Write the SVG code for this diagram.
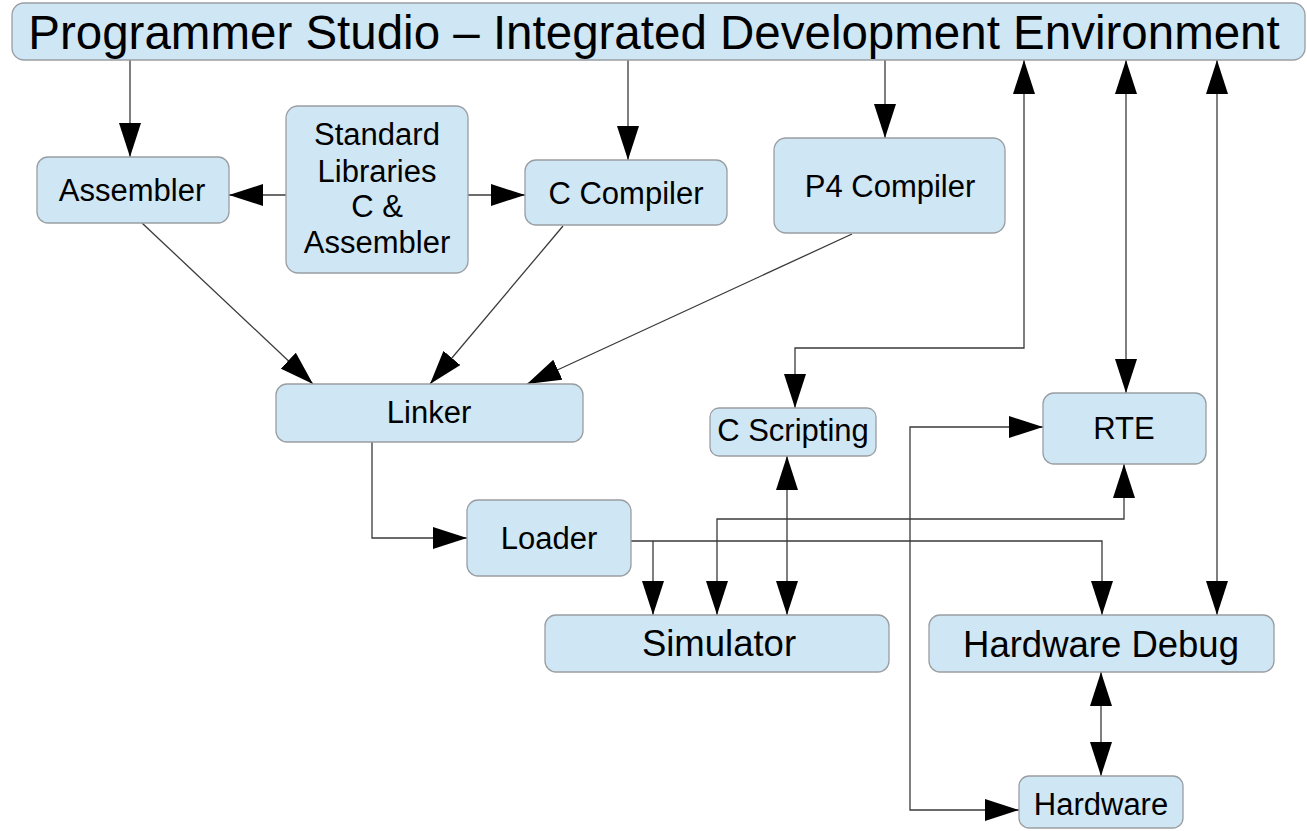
<svg xmlns="http://www.w3.org/2000/svg" width="1307" height="831" viewBox="0 0 1307 831">
<style>
.box{fill:#cfe6f4;stroke:#9a9ea3;stroke-width:1.3}
.t{font-family:"Liberation Sans",Arial,sans-serif;fill:#000;text-anchor:middle}
.m{font-size:31px}
.l{font-size:36.5px}
.c{fill:none;stroke:#3a3a3a;stroke-width:1.3}
</style>
<defs>
<marker id="ah" viewBox="0 0 34 22" refX="34" refY="11" markerWidth="34" markerHeight="22" markerUnits="userSpaceOnUse" orient="auto-start-reverse">
<path d="M0,0 L34,11 L0,22 z" fill="#000"/>
</marker>
</defs>
<rect width="1307" height="831" fill="#fff"/>
<g id="connectors">
<path class="c" d="M130,60 L130,157" marker-end="url(#ah)"/>
<path class="c" d="M628,60 L628,160" marker-end="url(#ah)"/>
<path class="c" d="M885,60 L885,138" marker-end="url(#ah)"/>
<path class="c" d="M286,195 L229,195" marker-end="url(#ah)"/>
<path class="c" d="M468,195 L525,195" marker-end="url(#ah)"/>
<path class="c" d="M142,223 L313,384" marker-end="url(#ah)"/>
<path class="c" d="M563,226 L430,384" marker-end="url(#ah)"/>
<path class="c" d="M852,234 L527,384" marker-end="url(#ah)"/>
<path class="c" d="M372,442 L372,538 L467,538" marker-end="url(#ah)"/>
<path class="c" d="M795,408 L795,348 L1024,348 L1024,60" marker-start="url(#ah)" marker-end="url(#ah)"/>
<path class="c" d="M1126,393 L1126,60" marker-start="url(#ah)" marker-end="url(#ah)"/>
<path class="c" d="M1217,615 L1217,60" marker-start="url(#ah)" marker-end="url(#ah)"/>
<path class="c" d="M787,615 L787,456" marker-start="url(#ah)" marker-end="url(#ah)"/>
<path class="c" d="M631,541 L1102,541 L1102,615" marker-end="url(#ah)"/>
<path class="c" d="M653,541 L653,615" marker-end="url(#ah)"/>
<path class="c" d="M717,615 L717,519 L1124,519 L1124,464" marker-start="url(#ah)" marker-end="url(#ah)"/>
<path class="c" d="M1019,810 L910,810 L910,427 L1043,427" marker-start="url(#ah)" marker-end="url(#ah)"/>
<path class="c" d="M1101,776 L1101,672" marker-start="url(#ah)" marker-end="url(#ah)"/>
</g>
<g id="ide">
<rect class="box" x="12" y="3" width="1293" height="57" rx="12"/>
<text class="t" x="654" y="49" font-size="47.5">Programmer Studio – Integrated Development Environment</text>
</g>
<g id="assembler">
<rect class="box" x="37" y="157" width="192" height="66" rx="11"/>
<text class="t m" x="132" y="201">Assembler</text>
</g>
<g id="stdlib">
<rect class="box" x="286" y="106" width="182" height="167" rx="12"/>
<text class="t m" x="377" y="145">Standard</text>
<text class="t m" x="377" y="182">Libraries</text>
<text class="t m" x="377" y="217">C &amp;</text>
<text class="t m" x="377" y="253">Assembler</text>
</g>
<g id="ccompiler">
<rect class="box" x="525" y="160" width="202" height="65" rx="11"/>
<text class="t m" x="626" y="204">C Compiler</text>
</g>
<g id="p4compiler">
<rect class="box" x="774" y="138" width="231" height="95" rx="12"/>
<text class="t m" x="890" y="197">P4 Compiler</text>
</g>
<g id="linker">
<rect class="box" x="276" y="384" width="307" height="58" rx="11"/>
<text class="t m" x="429" y="423">Linker</text>
</g>
<g id="loader">
<rect class="box" x="467" y="500" width="164" height="76" rx="11"/>
<text class="t m" x="549" y="549">Loader</text>
</g>
<g id="cscripting">
<rect class="box" x="710" y="408" width="166" height="48" rx="9"/>
<text class="t m" x="793" y="441">C Scripting</text>
</g>
<g id="rte">
<rect class="box" x="1043" y="393" width="163" height="71" rx="11"/>
<text class="t m" x="1124" y="439">RTE</text>
</g>
<g id="simulator">
<rect class="box" x="545" y="615" width="344" height="57" rx="11"/>
<text class="t l" x="719" y="656">Simulator</text>
</g>
<g id="hwdebug">
<rect class="box" x="929" y="615" width="345" height="57" rx="11"/>
<text class="t l" x="1101" y="657">Hardware Debug</text>
</g>
<g id="hardware">
<rect class="box" x="1019" y="776" width="164" height="52" rx="10"/>
<text class="t m" x="1101" y="815">Hardware</text>
</g>
</svg>
